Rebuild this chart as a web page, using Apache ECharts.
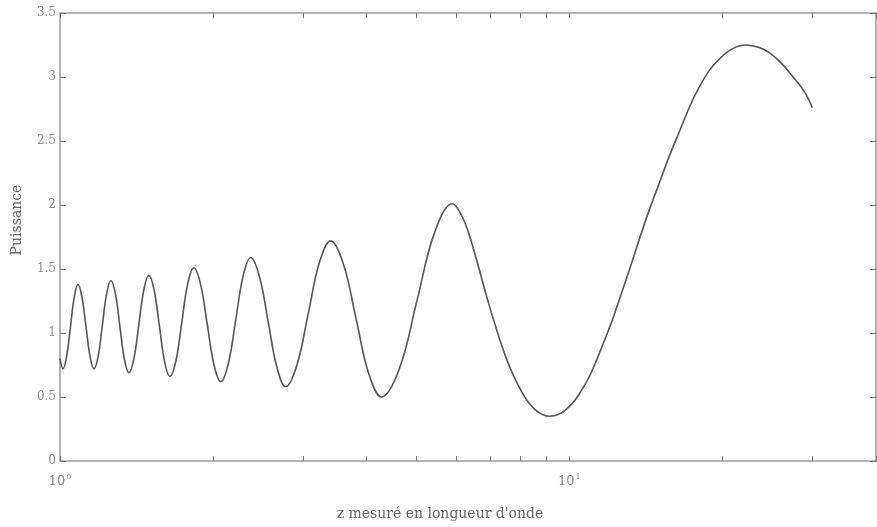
<!DOCTYPE html>
<html lang="fr">
<head>
    <meta charset="UTF-8">
    <title>Puissance</title>
    <script src="https://cdn.jsdelivr.net/npm/echarts@6/dist/echarts.min.js"></script>
    <style>
        *{
            margin:0;
            padding:0;
        }
        html,body{
            height:100%;
            width:100%;
            background:#fff;
        }
        #chart{
            height:527px;
            width:877px;
        }
    </style>
</head>
<body>
    <div id="chart"></div>
    <script>
        // z (en longueur d'onde) et puissance
        var zValues=[1.0,1.0136,1.0309,1.0486,1.0665,1.0847,1.1044,1.1246,1.145,1.1659,
            1.1885,1.2115,1.235,1.2589,1.2848,1.3111,1.338,1.3655,1.3967,1.4286,
            1.4612,1.4946,1.5304,1.5671,1.6047,1.6432,1.6883,1.7347,1.7823,1.8312,
            1.8879,1.9463,2.0065,2.0686,2.1399,2.2136,2.2898,2.3687,2.4642,2.5635,
            2.6668,2.7742,2.9187,3.0708,3.2308,3.3991,3.6005,3.8139,4.0399,4.2793,
            4.6365,5.0232,5.4425,5.8966,6.141,6.3669,6.661,6.9686,7.5244,8.0881,
            8.577,9.1358,9.6012,10.136,10.556,10.944,11.447,12.142,12.532,13.111,
            13.716,14.35,15.013,15.706,16.432,17.19,17.985,18.816,19.685,20.875,
            22.24,23.595,24.685,26.04,27.37,28.89,30.0]
        var puissance=[0.80,0.72,0.82,1.05,1.28,1.38,1.28,1.05,0.82,0.72,
            0.82,1.065,1.31,1.41,1.305,1.05,0.795,0.69,0.80,1.07,
            1.34,1.45,1.335,1.055,0.775,0.66,0.78,1.085,1.39,1.51,
            1.38,1.065,0.75,0.62,0.76,1.105,1.45,1.59,1.44,1.085,
            0.73,0.58,0.75,1.15,1.55,1.72,1.54,1.11,0.68,0.50,
            0.72,1.255,1.79,2.01,1.92,1.76,1.49,1.21,0.80,0.53,
            0.40,0.35,0.37,0.45,0.55,0.66,0.84,1.10,1.26,1.49,
            1.73,1.96,2.17,2.38,2.57,2.76,2.92,3.05,3.14,3.22,
            3.25,3.23,3.19,3.11,3.01,2.89,2.76]
        var yTicks=[0,0.5,1,1.5,2,2.5,3,3.5]
        var xTicks=[1,2,3,4,5,6,7,8,9,10,20,30,40]
        var xLabels=[1,10]

        var data=[]
        for(var i=0;i<zValues.length;i++){
            data.push([zValues[i],puissance[i]])
        }

        var gris='#8a8a8a'
        var police='DejaVu Serif'

        function axeX(haut){
            return {
                type:'log',
                logBase:10,
                min:1,
                max:40,
                position:haut?'top':'bottom',
                name:haut?'':"z mesuré en longueur d'onde",
                nameLocation:'middle',
                nameGap:46,
                nameTextStyle:{color:'#666',fontFamily:police,fontSize:14,padding:[0,56,0,0]},
                axisLine:{show:true,onZero:false,lineStyle:{color:'#999',width:1.5}},
                axisTick:{show:true,inside:true,length:5,customValues:xTicks,lineStyle:{color:'#777'}},
                axisLabel:{
                    show:!haut,
                    customValues:xLabels,
                    margin:12,
                    color:gris,
                    fontFamily:police,
                    fontSize:13,
                    formatter:function(v){
                        return '{b|10}{s|'+Math.round(Math.log10(v))+'}'
                    },
                    rich:{
                        b:{fontFamily:police,fontSize:13,color:gris},
                        s:{fontFamily:police,fontSize:8,color:gris,padding:[0,0,10,1]}
                    }
                },
                splitLine:{show:false}
            }
        }

        function axeY(droite){
            return {
                type:'value',
                min:0,
                max:3.5,
                interval:0.5,
                position:droite?'right':'left',
                name:droite?'':'Puissance',
                nameLocation:'middle',
                nameGap:36,
                nameTextStyle:{color:'#666',fontFamily:police,fontSize:14,padding:[0,0,0,34]},
                axisLine:{show:true,onZero:false,lineStyle:{color:'#999',width:1.5}},
                axisTick:{show:true,inside:true,length:6,lineStyle:{color:'#777'}},
                axisLabel:{
                    show:!droite,
                    margin:4,
                    color:gris,
                    fontFamily:police,
                    fontSize:12,
                    customValues:yTicks
                },
                splitLine:{show:false}
            }
        }

        var myChart=echarts.init(document.getElementById('chart'))
        var option={
            animation:false,
            backgroundColor:'#fff',
            grid:{left:60,top:13,right:1,bottom:66,containLabel:false},
            xAxis:[axeX(false),axeX(true)],
            yAxis:[axeY(false),axeY(true)],
            series:[
                {
                    type:'line',
                    data:data,
                    xAxisIndex:0,
                    yAxisIndex:0,
                    smooth:0.4,
                    showSymbol:false,
                    lineStyle:{color:'#555',width:1.6}
                }
            ]
        }
        myChart.setOption(option)
        window.onresize=myChart.resize
    </script>
</body>
</html>
